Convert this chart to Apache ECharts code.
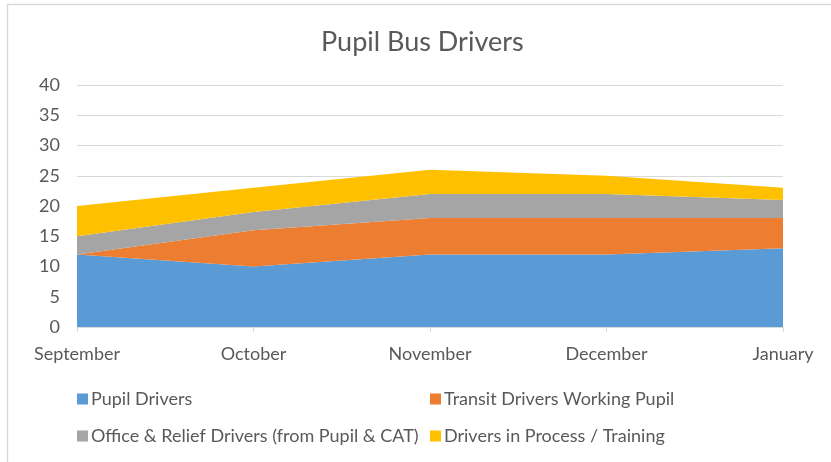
<!DOCTYPE html>
<html><head><meta charset="utf-8">
<script src="https://cdn.jsdelivr.net/npm/echarts@6/dist/echarts.min.js"></script>
<style>html,body{margin:0;padding:0;background:#fff}#c{width:831px;height:462px}</style>
</head><body><div id="c"></div>
<script>
const categories = ['September','October','November','December','January'];
const pupilDrivers = [12,10,12,12,13];
const transitDrivers = [0,6,6,6,5];
const officeRelief = [3,3,4,4,3];
const inTraining = [5,4,4,3,2];
const seriesNames = ['Pupil Drivers','Transit Drivers Working Pupil','Office & Relief Drivers (from Pupil & CAT)','Drivers in Process / Training'];
const colors = ['#5b9bd5','#ed7d31','#a5a5a5','#ffc000'];
const yTicks = {min:0,max:40,interval:5};

const font = 'Lato, "Open Sans", sans-serif';
const chart = echarts.init(document.getElementById('c'));
const dataSets = [pupilDrivers, transitDrivers, officeRelief, inTraining];
const legendPos = [{left:77,top:390},{left:430,top:390},{left:77,top:427},{left:430,top:427}];
chart.setOption({
  animation:false,
  color:colors,
  title:{text:'Pupil Bus Drivers',left:316,top:24,textStyle:{fontFamily:font,fontWeight:'normal',fontSize:27,color:'#595959'}},
  grid:{left:77,right:48,top:85,bottom:135},
  legend: seriesNames.map((n,i)=>({data:[n],left:legendPos[i].left,top:legendPos[i].top,padding:0,icon:'rect',itemWidth:11,itemHeight:11,itemGap:4,textStyle:{fontFamily:font,fontSize:18,color:'#595959',padding:[0,0,0,-2]}})),
  xAxis:{type:'category',data:categories,boundaryGap:false,
    axisLine:{lineStyle:{color:'#d9d9d9'}},
    axisTick:{show:true,length:5,lineStyle:{color:'#d9d9d9'}},
    axisLabel:{fontFamily:font,fontSize:18,color:'#595959',margin:18}},
  yAxis:{type:'value',min:yTicks.min,max:yTicks.max,interval:yTicks.interval,
    axisLine:{show:false},axisTick:{show:false},
    splitLine:{lineStyle:{color:'#d9d9d9'}},
    axisLabel:{fontFamily:font,fontSize:18,color:'#595959',margin:17}},
  series: dataSets.map((d,i)=>({name:seriesNames[i],type:'line',stack:'total',data:d,symbol:'none',
    lineStyle:{width:0},areaStyle:{color:colors[i],opacity:1},z:2})),
  graphic:[
    {type:'line',shape:{x1:7,y1:4.5,x2:831,y2:4.5},style:{stroke:'#d9d9d9',lineWidth:1.5}},
    {type:'line',shape:{x1:7.5,y1:4,x2:7.5,y2:462},style:{stroke:'#d9d9d9',lineWidth:1.5}}
  ]
});
</script></body></html>
